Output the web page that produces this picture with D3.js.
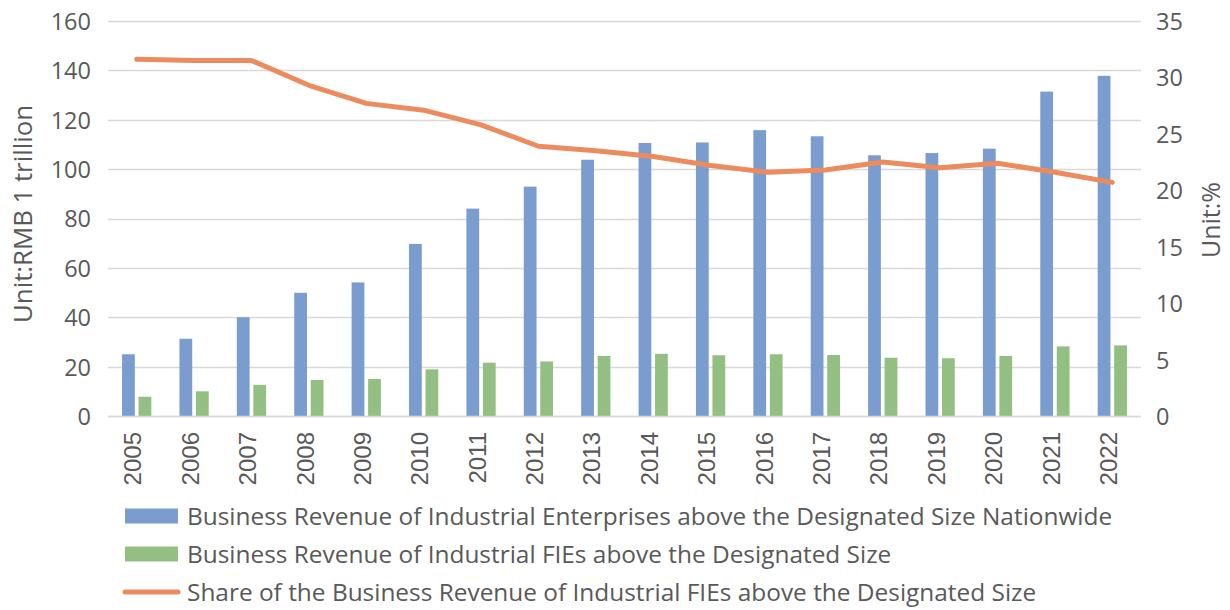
<!DOCTYPE html>
<html>
<head>
<meta charset="utf-8">
<script src="https://cdn.jsdelivr.net/npm/d3@7"></script>
<style>
  html, body { margin: 0; padding: 0; background: #fff; }
  svg { display: block; }
</style>
</head>
<body>
<svg id="chart" width="1230" height="610"></svg>
<script>
const years = ["2005","2006","2007","2008","2009","2010","2011","2012","2013","2014","2015","2016","2017","2018","2019","2020","2021","2022"];
const revenueAll = [25.0, 31.3, 40.0, 49.9, 54.1, 69.7, 84.0, 92.9, 103.8, 110.6, 110.8, 115.8, 113.3, 105.6, 106.5, 108.3, 131.4, 137.8];
const revenueFIE = [7.8, 10.0, 12.6, 14.6, 15.0, 18.9, 21.6, 22.1, 24.3, 25.2, 24.6, 25.0, 24.7, 23.6, 23.4, 24.3, 28.2, 28.6];
const shareFIE = [31.6, 31.5, 31.5, 29.3, 27.7, 27.1, 25.8, 23.9, 23.5, 23.0, 22.2, 21.6, 21.8, 22.5, 22.0, 22.4, 21.6, 20.7];
const leftTicks = [0, 20, 40, 60, 80, 100, 120, 140, 160];
const rightTicks = [0, 5, 10, 15, 20, 25, 30, 35];
const seriesNames = [
  "Business Revenue of Industrial Enterprises above the Designated Size Nationwide",
  "Business Revenue of Industrial FIEs above the Designated Size",
  "Share of the Business Revenue of Industrial FIEs above the Designated Size"
];
const leftTitle = "Unit:RMB 1 trillion";
const rightTitle = "Unit:%";

const colors = { blue: "#7B9CCF", green: "#93BF82", orange: "#EC8C5E", grid: "#D9D9D9", text: "#595959" };
const uiFont = "'Open Sans', 'Noto Sans', sans-serif";

const svg = d3.select("#chart");
const plot = { left: 108, right: 1141, top: 21, bottom: 416 };

const x = d3.scaleBand().domain(years).range([plot.left, plot.right]).paddingInner(0.49).paddingOuter(0.245);
const xs = d3.scaleBand().domain(["all", "fie"]).range([0, x.bandwidth()]).paddingInner(0.226);
const yL = d3.scaleLinear().domain([0, 160]).range([plot.bottom, plot.top]);
const yR = d3.scaleLinear().domain([0, 35]).range([plot.bottom, plot.top]);
const xc = d => x(d) + x.bandwidth() / 2;

// gridlines
svg.append("g").selectAll("line").data(leftTicks).join("line")
  .attr("x1", plot.left).attr("x2", plot.right)
  .attr("y1", d => Math.round(yL(d)) + 0.5).attr("y2", d => Math.round(yL(d)) + 0.5)
  .attr("stroke", colors.grid).attr("stroke-width", 1.3);

// left axis
const gL = svg.append("g").attr("transform", `translate(${plot.left - 17},0)`)
  .call(d3.axisLeft(yL).tickValues(leftTicks).tickSize(0).tickPadding(0));
gL.select(".domain").remove();
gL.selectAll("text").attr("font-family", uiFont).attr("font-size", 23.5).attr("fill", colors.text).attr("dy", "0.36em");

// right axis
const gR = svg.append("g").attr("transform", `translate(${plot.right + 15},0)`)
  .call(d3.axisRight(yR).tickValues(rightTicks).tickSize(0).tickPadding(0));
gR.select(".domain").remove();
gR.selectAll("text").attr("font-family", uiFont).attr("font-size", 23.5).attr("fill", colors.text).attr("dy", "0.36em");

// x axis labels
const gX = svg.append("g").attr("transform", `translate(0,${plot.bottom})`)
  .call(d3.axisBottom(x).tickSize(0).tickPadding(0));
gX.select(".domain").remove();
gX.selectAll(".tick text")
  .attr("font-family", "'Liberation Sans Narrow', 'Liberation Sans', Arial, sans-serif")
  .attr("font-size", 24).attr("fill", colors.text)
  .attr("text-anchor", "end")
  .attr("transform", "translate(-4,16) rotate(-90)")
  .attr("x", 0).attr("y", 0).attr("dy", "0.36em");

// bars
const groups = svg.append("g").selectAll("g").data(years).join("g")
  .attr("transform", d => `translate(${x(d)},0)`);
groups.append("rect")
  .attr("x", xs("all")).attr("width", xs.bandwidth())
  .attr("y", (d, i) => yL(revenueAll[i])).attr("height", (d, i) => yL(0) - yL(revenueAll[i]))
  .attr("fill", colors.blue);
groups.append("rect")
  .attr("x", xs("fie")).attr("width", xs.bandwidth())
  .attr("y", (d, i) => yL(revenueFIE[i])).attr("height", (d, i) => yL(0) - yL(revenueFIE[i]))
  .attr("fill", colors.green);

// baseline
svg.append("line").attr("x1", plot.left).attr("x2", plot.right)
  .attr("y1", Math.round(yL(0)) + 0.5).attr("y2", Math.round(yL(0)) + 0.5)
  .attr("stroke", colors.grid).attr("stroke-width", 1.3);

// line
const line = d3.line().x((d, i) => xc(years[i])).y(d => yR(d));
svg.append("path").datum(shareFIE).attr("d", line)
  .attr("fill", "none").attr("stroke", colors.orange).attr("stroke-width", 5)
  .attr("stroke-linecap", "round").attr("stroke-linejoin", "round");

// axis titles
function fitText(sel, base, target) {
  sel.attr("font-size", base);
  const w = sel.node().getComputedTextLength();
  sel.attr("font-size", base * target / w);
}
const tL = svg.append("text").attr("transform", "translate(23,214) rotate(-90)")
  .attr("text-anchor", "middle").attr("dy", "0.36em")
  .attr("font-family", uiFont).attr("fill", colors.text)
  .text(leftTitle);
fitText(tL, 23, 218);
svg.append("text").attr("transform", "translate(1211,220) rotate(-90)")
  .attr("text-anchor", "middle").attr("dy", "0.36em")
  .attr("font-family", uiFont).attr("font-size", 25).attr("fill", colors.text)
  .text(rightTitle);

// legend
const legendRows = [516, 554, 592];
const leg = svg.append("g");
const legText = leg.selectAll("text").data(seriesNames).join("text")
  .attr("x", 187).attr("y", (d, i) => legendRows[i]).attr("dy", "0.36em")
  .attr("font-family", uiFont).attr("font-size", 21).attr("fill", colors.text)
  .text(d => d);
const w0 = legText.node().getComputedTextLength();
legText.attr("font-size", 21 * 926 / w0);

leg.append("rect").attr("x", 125).attr("y", legendRows[0] - 7.5).attr("width", 53).attr("height", 15).attr("fill", colors.blue);
leg.append("rect").attr("x", 125).attr("y", legendRows[1] - 7.5).attr("width", 53).attr("height", 15).attr("fill", colors.green);
leg.append("line").attr("x1", 125).attr("x2", 178).attr("y1", legendRows[2]).attr("y2", legendRows[2])
  .attr("stroke", colors.orange).attr("stroke-width", 5).attr("stroke-linecap", "round");
</script>
</body>
</html>
